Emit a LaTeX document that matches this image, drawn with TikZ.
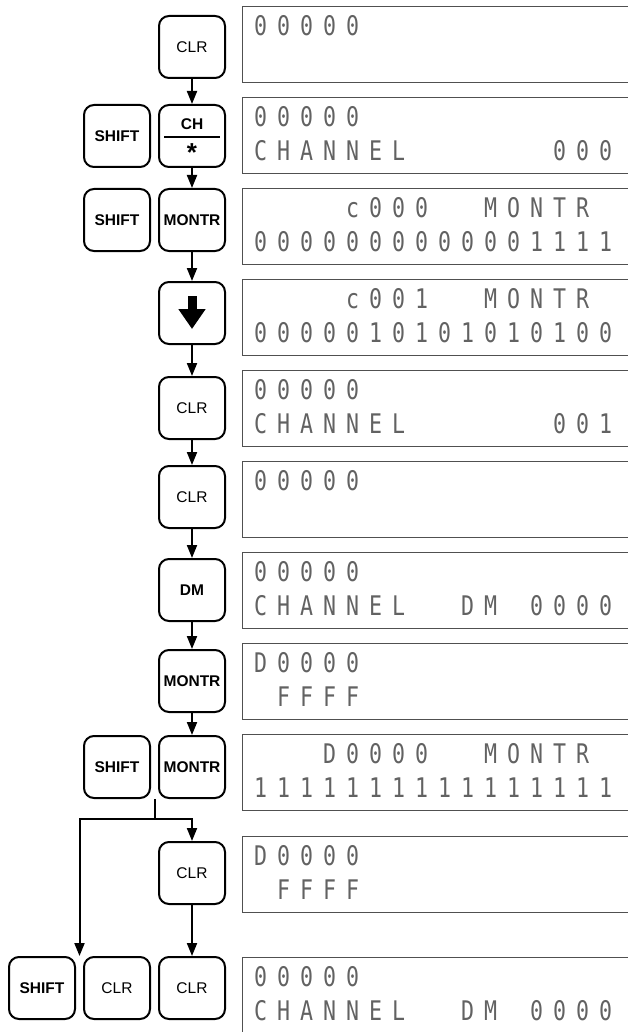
\documentclass[tikz,border=0pt]{standalone}
\usepackage{fontspec}
\setmainfont{Liberation Sans}
\newfontfamily\lcdfont{DejaVu Sans Mono}[FakeStretch=0.8]
\usetikzlibrary{positioning, arrows.meta, calc}
\definecolor{cLCD}{HTML}{626262}
\definecolor{cFRAME}{HTML}{505050}
\newlength{\lcdpitch}
\setlength{\lcdpitch}{23pt}
% one character per cell, "." is an empty cell
\def\lcdloop#1{\ifx#1\relax\else\makebox[\lcdpitch][l]{\ifx#1.\else#1\fi}\expandafter\lcdloop\fi}
\newcommand{\lcdrow}[1]{\lcdloop#1\relax}
\tikzset{
  keycap/.style={
    draw, line width=2pt,
    rounded corners=10pt,
    minimum width=66pt,
    minimum height=62pt,
    inner sep=0pt,
    align=center,
    font=\fontsize{15.5}{17}\selectfont
  },
  keycapb/.style={
    keycap,
    font=\fontsize{15.5}{17}\selectfont\bfseries
  },
  keylabel/.style={
    inner sep=0pt,
    font=\fontsize{15.5}{17}\selectfont\bfseries
  },
  lcdbox/.style={
    draw=cFRAME, line width=1.2pt,
    anchor=north west,
    minimum width=440pt,
    minimum height=76pt,
    inner sep=0pt
  },
  lcdtext/.style={
    anchor=west,
    inner sep=0pt,
    text=cLCD,
    font=\lcdfont\fontsize{27}{27}\selectfont
  },
  flow/.style={
    -{Triangle[length=13pt,width=10pt]},
    line width=2pt
  }
}

\begin{document}
\begin{tikzpicture}[x=1pt, y=-1pt]
  \useasboundingbox (0,0) rectangle (628,1032);
  \begin{scope}
  \clip (0,0) rectangle (628,1032);

  % displays
  \node[lcdbox] (lcdA) at (242,6) {};
  \node[lcdbox] (lcdB) at (242,97) {};
  \node[lcdbox] (lcdC) at (242,188) {};
  \node[lcdbox] (lcdD) at (242,279) {};
  \node[lcdbox] (lcdE) at (242,370) {};
  \node[lcdbox] (lcdF) at (242,461) {};
  \node[lcdbox] (lcdG) at (242,552) {};
  \node[lcdbox] (lcdH) at (242,643) {};
  \node[lcdbox] (lcdI) at (242,734) {};
  \node[lcdbox] (lcdJ) at (242,836) {};
  \node[lcdbox] (lcdK) at (242,957) {};

  \node[lcdtext] (txtA1) at ($(lcdA.north west)+(12,20)$) {\lcdrow{00000}};
  \node[lcdtext] (txtB1) at ($(lcdB.north west)+(12,20)$) {\lcdrow{00000}};
  \node[lcdtext] (txtB2) at ($(lcdB.north west)+(12,54)$) {\lcdrow{CHANNEL......000}};
  \node[lcdtext] (txtC1) at ($(lcdC.north west)+(12,20)$) {\lcdrow{....c000..MONTR}};
  \node[lcdtext] (txtC2) at ($(lcdC.north west)+(12,54)$) {\lcdrow{0000000000001111}};
  \node[lcdtext] (txtD1) at ($(lcdD.north west)+(12,20)$) {\lcdrow{....c001..MONTR}};
  \node[lcdtext] (txtD2) at ($(lcdD.north west)+(12,54)$) {\lcdrow{0000010101010100}};
  \node[lcdtext] (txtE1) at ($(lcdE.north west)+(12,20)$) {\lcdrow{00000}};
  \node[lcdtext] (txtE2) at ($(lcdE.north west)+(12,54)$) {\lcdrow{CHANNEL......001}};
  \node[lcdtext] (txtF1) at ($(lcdF.north west)+(12,20)$) {\lcdrow{00000}};
  \node[lcdtext] (txtG1) at ($(lcdG.north west)+(12,20)$) {\lcdrow{00000}};
  \node[lcdtext] (txtG2) at ($(lcdG.north west)+(12,54)$) {\lcdrow{CHANNEL..DM.0000}};
  \node[lcdtext] (txtH1) at ($(lcdH.north west)+(12,20)$) {\lcdrow{D0000}};
  \node[lcdtext] (txtH2) at ($(lcdH.north west)+(12,54)$) {\lcdrow{.FFFF}};
  \node[lcdtext] (txtI1) at ($(lcdI.north west)+(12,20)$) {\lcdrow{...D0000..MONTR}};
  \node[lcdtext] (txtI2) at ($(lcdI.north west)+(12,54)$) {\lcdrow{1111111111111111}};
  \node[lcdtext] (txtJ1) at ($(lcdJ.north west)+(12,20)$) {\lcdrow{D0000}};
  \node[lcdtext] (txtJ2) at ($(lcdJ.north west)+(12,54)$) {\lcdrow{.FFFF}};
  \node[lcdtext] (txtK1) at ($(lcdK.north west)+(12,20)$) {\lcdrow{00000}};
  \node[lcdtext] (txtK2) at ($(lcdK.north west)+(12,54)$) {\lcdrow{CHANNEL..DM.0000}};
  \end{scope}

  % keys
  \node[keycap] (clrA) at (192,47) {CLR};
  \node[keycapb] (chkey) at (192,136) {};
  \node[keycapb, left=7pt of chkey] (shiftA) {SHIFT};
  \node[keycapb] (montrA) at (192,220) {MONTR};
  \node[keycapb, left=7pt of montrA] (shiftB) {SHIFT};
  \node[keycap] (downkey) at (192,313) {};
  \node[keycap] (clrB) at (192,408) {CLR};
  \node[keycap] (clrC) at (192,497) {CLR};
  \node[keycapb] (dmkey) at (192,590) {DM};
  \node[keycapb] (montrB) at (192,681) {MONTR};
  \node[keycapb] (montrC) at (192,767) {MONTR};
  \node[keycapb, left=7pt of montrC] (shiftC) {SHIFT};
  \node[keycap] (clrD) at (192,873) {CLR};
  \node[keycap] (clrE) at (192,988) {CLR};
  \node[keycap, left=7pt of clrE] (clrF) {CLR};
  \node[keycapb, left=7pt of clrF] (shiftD) {SHIFT};

  % legend of the CH key and the arrow on the cursor key
  \node[keylabel] (chtop) at ($(chkey.center)+(0,-12)$) {CH};
  \node[keylabel, anchor=north, font=\fontsize{26}{26}\selectfont\bfseries] (chstar) at ($(chkey.center)+(0,7)$) {*};
  \draw[line width=2pt] ($(chkey.west)+(6,1)$) -- ($(chkey.east)+(-6,1)$);
  \draw[line width=9pt, -{Triangle[length=20pt,width=26pt]}]
    ($(downkey.center)+(0,-17)$) -- ($(downkey.center)+(0,16)$);

  % key sequence
  \draw[flow] (clrA) -- (chkey);
  \draw[flow] (chkey) -- (montrA);
  \draw[flow] (montrA) -- (downkey);
  \draw[flow] (downkey) -- (clrB);
  \draw[flow] (clrB) -- (clrC);
  \draw[flow] (clrC) -- (dmkey);
  \draw[flow] (dmkey) -- (montrB);
  \draw[flow] (montrB) -- (montrC);
  \draw[flow] (clrD) -- (clrE);

  % branch below SHIFT + MONTR
  \coordinate (pairC) at ($(shiftC.south east)!0.5!(montrC.south west)$);
  \coordinate (pairD) at ($(shiftD.north east)!0.5!(clrF.north west)$);
  \coordinate (fork) at ($(pairC)+(0,20)$);
  \draw[line width=2pt] (pairC) -- (fork);
  \draw[flow] (fork) -| (clrD);
  \draw[flow] (fork) -| (pairD);
\end{tikzpicture}
\end{document}
